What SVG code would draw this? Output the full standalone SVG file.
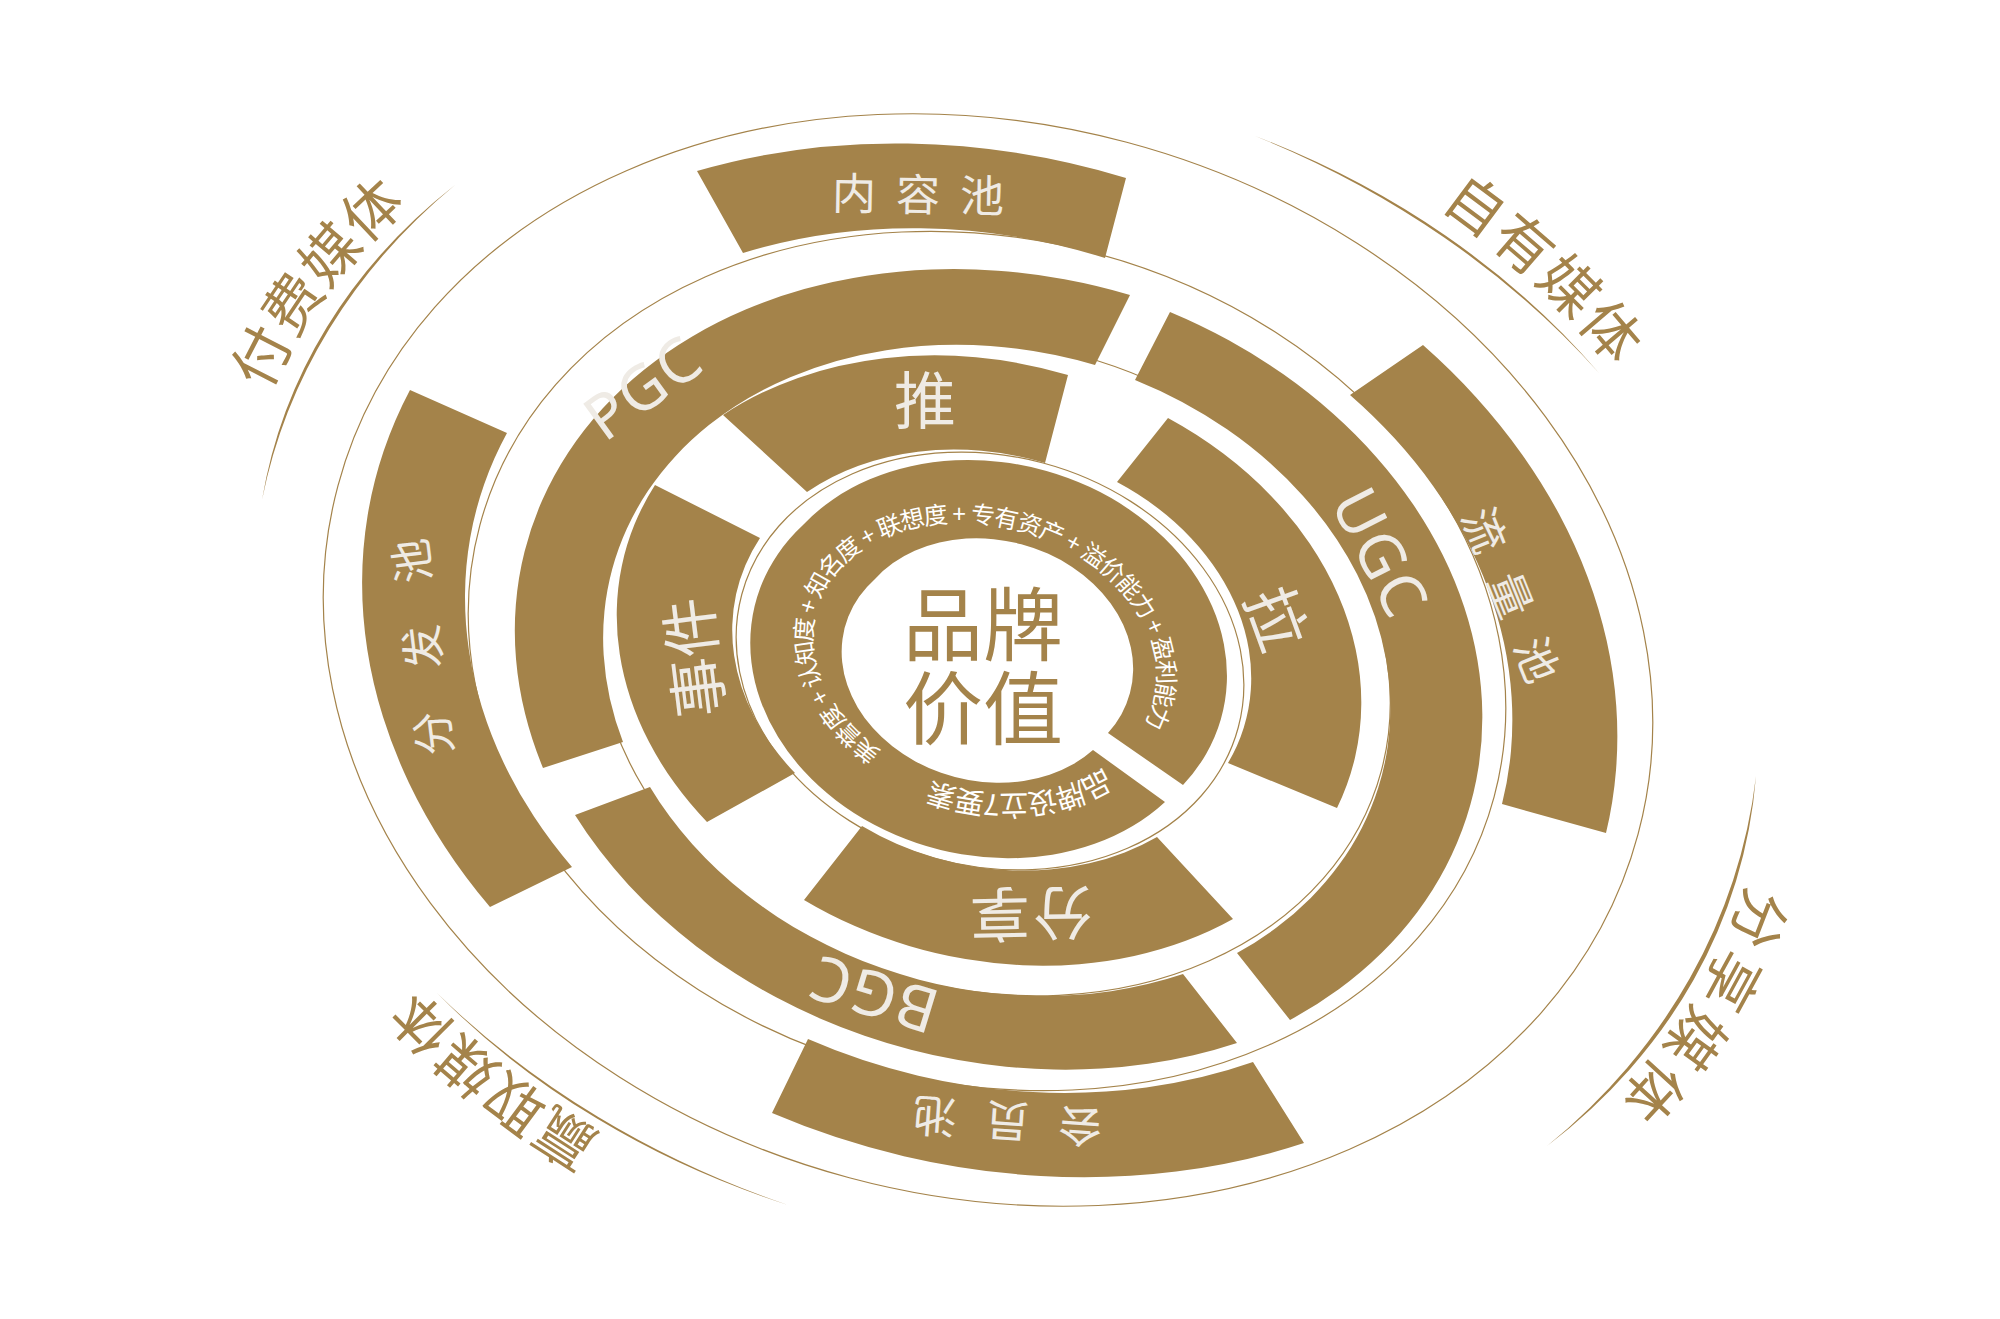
<svg xmlns="http://www.w3.org/2000/svg" width="2000" height="1319" viewBox="0 0 2000 1319">
<style>
.seg{fill:#A4834A;}
.thin{fill:none;stroke:#A4834A;stroke-width:1.2;}
.deco{fill:#A4834A;}
.lbl{font-family:"Noto Sans CJK SC","Noto Sans",sans-serif;fill:#EFEBE5;text-anchor:middle;dominant-baseline:central;}
.lat{font-family:"Noto Sans","Open Sans",sans-serif;fill:#EFEBE5;text-anchor:middle;dominant-baseline:central;}
.media{font-family:"Noto Sans CJK SC",sans-serif;fill:#A4834A;font-size:58px;dominant-baseline:central;text-anchor:middle;}
.core{font-family:"Noto Sans CJK SC",sans-serif;fill:#A4834A;font-size:80px;text-anchor:middle;dominant-baseline:central;}
.ring1t{font-family:"Noto Sans CJK SC",sans-serif;fill:#FFFFFF;dominant-baseline:central;text-anchor:middle;}
</style>
<defs>
<path id="tp-fufei" d="M202.8,597.2 A795,634 15 0 1 584.3,71.7"/>
<path id="tp-ziyou" d="M1218.9,66.9 A797,635 15 0 1 1755.3,587.9"/>
<path id="tp-fenxiang" d="M1793,678.4 A818,652 15 0 1 1450.7,1244.5"/>
<path id="tp-yingqu" d="M827.7,1258 A776,619 15 0 1 258.6,784.9"/>
<path id="tp-r1main" d="M894.5,772.6 A186,142 15 0 1 939.4,512.6 A186,142 15 0 1 1141.3,749.2"/>
<path id="tp-r1bot" d="M1122,772 A188,146 15 0 1 914,788"/>
</defs>
<rect width="2000" height="1319" fill="#FFFFFF"/>

<g id="connectors">
<ellipse class="thin" cx="988" cy="660" rx="673" ry="536" transform="rotate(15 988 660)"/>
<ellipse class="thin" cx="987" cy="661" rx="525" ry="422" transform="rotate(15 987 661)"/>
<ellipse class="thin" cx="994" cy="667" rx="401" ry="323" transform="rotate(15 994 667)"/>
<ellipse class="thin" cx="990" cy="661" rx="257" ry="205" transform="rotate(15 990 661)"/>
<path class="deco" d="M262,500 A750,598 15 0 1 455,185 A818,652 15 0 0 262,500 Z"/>
<path class="deco" d="M1255,136 A750,598 15 0 1 1599,373 A818,652 15 0 0 1255,136 Z"/>
<path class="deco" d="M1756,776 A770,614 15 0 1 1547,1146 A840,670 15 0 0 1756,776 Z"/>
<path class="deco" d="M788,1205 A735,585 15 0 1 437,993 A800,637 15 0 0 788,1205 Z"/>
</g>

<g id="media-paid"><text class="media" letter-spacing="4"><textPath href="#tp-fufei" startOffset="50%">付费媒体</textPath></text></g>
<g id="media-owned"><text class="media" letter-spacing="4"><textPath href="#tp-ziyou" startOffset="50%">自有媒体</textPath></text></g>
<g id="media-shared"><text class="media" letter-spacing="10"><textPath href="#tp-fenxiang" startOffset="50%">分享媒体</textPath></text></g>
<g id="media-earned"><text class="media" letter-spacing="3"><textPath href="#tp-yingqu" startOffset="50%">赢取媒体</textPath></text></g>

<g id="pool-content">
<path class="seg" d="M697,171 A643,512 15 0 1 1126,178 L1105,258 A525,422 15 0 0 743,253 Z"/>
<text class="lbl" font-size="44" letter-spacing="20" transform="translate(928,192) rotate(1)">内容池</text>
</g>
<g id="pool-traffic">
<path class="seg" d="M1423,345 A643,512 15 0 1 1606,833 L1502,804 A525,422 15 0 0 1350,395 Z"/>
<text class="lbl" font-size="44" letter-spacing="26" transform="translate(1513,594) rotate(68) translate(13,0)">流量池</text>
</g>
<g id="pool-member">
<path class="seg" d="M1304,1143 A643,512 15 0 1 772,1113 L808,1039 A525,422 15 0 0 1253,1062 Z"/>
<text class="lbl" font-size="44" letter-spacing="29" transform="translate(1007,1124) rotate(184) translate(14,0)">会员池</text>
</g>
<g id="pool-distribution">
<path class="seg" d="M490,907 A643,512 15 0 1 410,390 L507,433 A525,422 15 0 0 572,867 Z"/>
<text class="lbl" font-size="44" letter-spacing="43" transform="translate(420,647) rotate(-97) translate(21,0)">分发池</text>
</g>

<g id="pgc">
<path class="seg" d="M543,768 A501,400 15 0 1 1130,295 L1095,365 A401,323 15 0 0 623,742 Z"/>
<text class="lat" font-size="62" letter-spacing="2" transform="translate(642,386) rotate(-36)">PGC</text>
</g>
<g id="ugc">
<path class="seg" d="M1170,312 A501,400 15 0 1 1290,1020 L1237,953 A401,323 15 0 0 1135,380 Z"/>
<text class="lat" font-size="62" letter-spacing="2" transform="translate(1382,552) rotate(63)">UGC</text>
</g>
<g id="bgc">
<path class="seg" d="M1237,1043 A501,400 15 0 1 575,815 L650,787 A401,323 15 0 0 1183,974 Z"/>
<text class="lat" font-size="62" letter-spacing="2" transform="translate(873,996) rotate(197)">BGC</text>
</g>

<g id="push">
<path class="seg" d="M723,415 A378,300 15 0 1 1068,375 L1045,463 A258,206 15 0 0 807,492 Z"/>
<text class="lbl" font-size="62" transform="translate(925,397)">推</text>
</g>
<g id="pull">
<path class="seg" d="M1168,418 A378,300 15 0 1 1337,808 L1228,763 A258,206 15 0 0 1117,482 Z"/>
<text class="lbl" font-size="62" transform="translate(1280,617) rotate(70)">拉</text>
</g>
<g id="share">
<path class="seg" d="M1233,919 A378,300 15 0 1 804,900 L862,826 A258,206 15 0 0 1157,837 Z"/>
<text class="lbl" font-size="60" letter-spacing="3" transform="translate(1030,918) rotate(179)">分享</text>
</g>
<g id="event">
<path class="seg" d="M707,822 A378,300 15 0 1 655,485 L760,538 A258,206 15 0 0 795,773 Z"/>
<text class="lbl" font-size="60" transform="translate(690,658) rotate(-97)">事件</text>
</g>

<g id="brand-elements">
<path class="seg" d="M1165,802 A231,187 15 0 1 803,525 A231,187 15 0 1 1183,785 L1108,733 A140,113 15 0 0 875,579 A140,113 15 0 0 1093,750 Z"/>
<text class="ring1t" font-size="24"><textPath href="#tp-r1main" startOffset="50%">美誉度 + 认知度 + 知名度 + 联想度 + 专有资产 + 溢价能力 + 盈利能力</textPath></text>
<text class="ring1t" font-size="29"><textPath href="#tp-r1bot" startOffset="50%">品牌设立7要素</textPath></text>
</g>

<g id="brand-value">
<text class="core" x="983" y="619">品牌<tspan x="983" y="703">价值</tspan></text>
</g>
</svg>
